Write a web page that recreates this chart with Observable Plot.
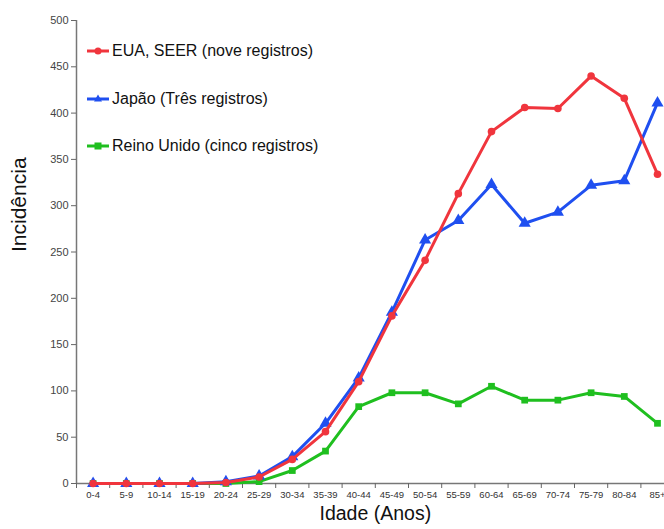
<!DOCTYPE html>
<html>
<head>
<meta charset="utf-8">
<script src="https://cdn.jsdelivr.net/npm/d3@7"></script>
<script src="https://cdn.jsdelivr.net/npm/@observablehq/plot@0.6"></script>
<style>
  html, body { margin: 0; padding: 0; background: #fff; overflow: hidden; }
  #wrap { position: relative; width: 664px; height: 529px; overflow: hidden; font-family: "Liberation Sans", Arial, sans-serif; }
  #inner { position: absolute; left: 0; top: 0; width: 680px; height: 529px; }
  #inner svg { max-width: none !important; width: 680px; height: 529px; }
  .leg { position: absolute; left: 86px; height: 20px; display: flex; align-items: center; font-size: 16px; color: #111; white-space: nowrap; }
  .leg svg { margin-right: 2px; }
</style>
</head>
<body>
<div id="wrap"><div id="inner"></div></div>
<script>
const categories = ["0-4","5-9","10-14","15-19","20-24","25-29","30-34","35-39","40-44","45-49","50-54","55-59","60-64","65-69","70-74","75-79","80-84","85+"];
const eua    = [0,0,0,0,1,7,26,56,110,181,241,313,380,406,405,440,416,334];
const japao  = [0,0,0,0,2,8,29,65,114,185,263,284,323,281,293,322,327,411];
const reino  = [0,0,0,0,0,2,14,35,83,98,98,86,105,90,90,98,94,65];
const seriesNames = ["EUA, SEER (nove registros)", "Japão (Três registros)", "Reino Unido (cinco registros)"];
const seriesColors = ["#f0353d", "#1f4ff0", "#1fbf1f"];
const seriesSymbols = ["circle", "triangle", "square"];
const yTicks = [0,50,100,150,200,250,300,350,400,450,500];

const seriesValues = [eua, japao, reino];
const rows = [];
seriesValues.forEach((vals, s) => vals.forEach((v, i) => rows.push({i, v, s})));
const idx = categories.map((c, i) => i);
const bounds = [-0.5, ...idx.map(i => i + 0.5)];

const drawOrder = [2, 1, 0];
const marks = [
  Plot.ruleX([-0.5], {stroke: "#777", strokeWidth: 1.5}),
  Plot.ruleY([0], {stroke: "#777", strokeWidth: 1.5}),
  Plot.axisY(yTicks, {tickSize: 5, tickPadding: 3, fontSize: 11, stroke: "#666", color: "#444", label: null}),
  Plot.axisX(bounds, {tickSize: 5, tickFormat: () => "", stroke: "#666", label: null}),
  Plot.axisX(idx, {tickSize: 0, tickPadding: 8, fontSize: 9.5, color: "#333", tickFormat: i => categories[i], label: null}),
  Plot.text(["Idade (Anos)"], {frameAnchor: "bottom", dy: 36, fontSize: 19.5, fill: "#111"}),
  Plot.text(["Incidência"], {frameAnchor: "left", dx: -57, rotate: -90, fontSize: 21, fill: "#111"})
];
for (const s of drawOrder) {
  const d = rows.filter(r => r.s === s);
  marks.push(Plot.line(d, {x: "i", y: "v", stroke: seriesColors[s], strokeWidth: 3}));
  marks.push(Plot.dot(d, {x: "i", y: "v", fill: seriesColors[s], symbol: seriesSymbols[s], r: s === 1 ? 4.5 : 3.8}));
}

const chart = Plot.plot({
  width: 680,
  height: 529,
  marginLeft: 76,
  marginRight: 6.4,
  marginTop: 20,
  marginBottom: 46,
  style: {fontFamily: "'Liberation Sans', Arial, sans-serif", background: "#fff", maxWidth: "none"},
  x: {type: "linear", domain: [-0.5, 17.5], axis: null},
  y: {domain: [0, 500], axis: null},
  marks
});
const wrap = document.getElementById("wrap");
document.getElementById("inner").appendChild(chart);

const legTops = [41, 89, 136];
seriesNames.forEach((name, s) => {
  const div = document.createElement("div");
  div.className = "leg";
  div.style.top = legTops[s] + "px";
  const sym = seriesSymbols[s];
  const c = seriesColors[s];
  let marker;
  if (sym === "circle") marker = `<circle cx="12" cy="10" r="3.5" fill="${c}"/>`;
  else if (sym === "triangle") marker = `<path d="M12,5.5L16,12.5L8,12.5Z" fill="${c}"/>`;
  else marker = `<rect x="8.5" y="6.5" width="7" height="7" fill="${c}"/>`;
  div.innerHTML = `<svg width="24" height="20"><line x1="1" x2="23" y1="10" y2="10" stroke="${c}" stroke-width="3"/>${marker}</svg><span>${name}</span>`;
  wrap.appendChild(div);
});
</script>
</body>
</html>
